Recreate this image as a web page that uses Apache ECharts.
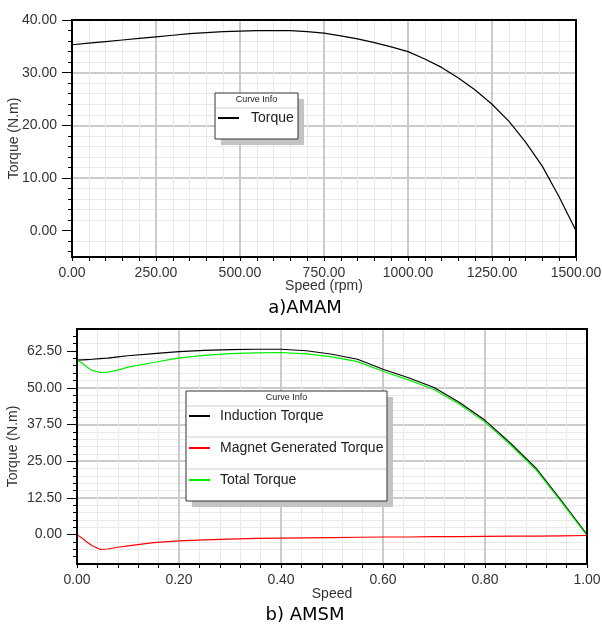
<!DOCTYPE html>
<html>
<head>
<meta charset="utf-8">
<script src="https://cdn.jsdelivr.net/npm/echarts@6/dist/echarts.min.js"></script>
<style>
  html, body { margin: 0; padding: 0; background: #fff; }
  #chart { width: 602px; height: 626px; }
</style>
</head>
<body>
<div id="chart"></div>
<script>
// ---- a) AMAM: torque / speed curve ----
const amamSpeed = [0, 50, 100, 150, 200, 250, 300, 350, 400, 450, 500, 550, 600, 650, 700, 750,
  800, 850, 900, 950, 1000, 1050, 1100, 1150, 1200, 1250, 1300, 1350, 1400, 1450, 1500];
const amamTorque = [35.3, 35.6, 35.9, 36.2, 36.5, 36.8, 37.1, 37.4, 37.6, 37.8, 37.9, 38.0, 38.0, 38.0, 37.8, 37.5,
  37.0, 36.4, 35.7, 34.9, 34.0, 32.6, 31.0, 29.0, 26.7, 24.0, 20.8, 16.8, 12.2, 6.4, 0.0];
const amamYMajor = [0, 10, 20, 30, 40];
const amamYMinor = [-4, -2, 2, 4, 6, 8, 12, 14, 16, 18, 22, 24, 26, 28, 32, 34, 36, 38];

// ---- b) AMSM: per-unit speed curves ----
const amsmSpeed = [0, 0.01, 0.02, 0.03, 0.045, 0.06, 0.08, 0.1, 0.15, 0.2, 0.25, 0.3, 0.35, 0.4, 0.45,
  0.5, 0.55, 0.6, 0.65, 0.7, 0.75, 0.8, 0.85, 0.9, 0.95, 1.0];
const inductionTorque = [59.4, 59.5, 59.6, 59.7, 59.9, 60.1, 60.5, 60.9, 61.6, 62.3, 62.7, 63.0, 63.1, 63.1, 62.6,
  61.4, 59.7, 56.3, 53.4, 50.1, 45.0, 38.9, 31.1, 22.6, 11.5, 0.0];
const magnetTorque = [0.0, -1.2, -2.6, -3.8, -5.0, -4.9, -4.3, -3.8, -2.7, -2.1, -1.8, -1.5, -1.3, -1.2, -1.1,
  -1.0, -0.9, -0.8, -0.8, -0.7, -0.7, -0.6, -0.5, -0.5, -0.4, -0.3];
const totalTorque = [59.4, 58.4, 57.0, 55.9, 55.2, 55.3, 56.0, 57.0, 58.6, 60.2, 61.0, 61.6, 61.9, 62.0, 61.5,
  60.5, 58.9, 55.6, 52.7, 49.4, 44.4, 38.3, 30.6, 22.1, 11.1, -0.3];
const amsmYMajor = [0, 12.5, 25, 37.5, 50, 62.5];
const amsmYMinor = [-7.5, -5, -2.5, 2.5, 5, 7.5, 10, 15, 17.5, 20, 22.5, 27.5, 30, 32.5, 35,
  40, 42.5, 45, 47.5, 52.5, 55, 57.5, 60, 65, 67.5];

const FONT = 'Liberation Sans, Arial, sans-serif';
const LABEL = '#333';
const MAJOR_GRID = '#cbcbcb';
const MINOR_GRID = '#e9e9e9';

const pairs = (xs, ys) => xs.map((x, i) => [x, ys[i]]);

function xAxisFor(gridIndex, min, max, interval, name, nameGap) {
  return {
    type: 'value', gridIndex, min, max, interval,
    name, nameLocation: 'middle', nameGap, nameMoveOverlap: false,
    nameTextStyle: { fontFamily: FONT, fontSize: 14, color: LABEL },
    axisLine: { show: true, onZero: false, lineStyle: { color: '#000', width: 2 } },
    axisTick: { show: true, inside: false, length: 4, lineStyle: { color: '#000' } },
    minorTick: { show: true, splitNumber: 5, length: 4, lineStyle: { color: '#000' } },
    axisLabel: { fontFamily: FONT, fontSize: 14, color: LABEL, margin: 9,
      formatter: v => v.toFixed(2) },
    splitLine: { show: true, showMinLine: false, showMaxLine: false,
      lineStyle: { color: MAJOR_GRID, width: 2 } },
    minorSplitLine: { show: true, lineStyle: { color: MINOR_GRID, width: 1 } },
    z: 1
  };
}

function yAxesFor(gridIndex, min, max, major, minor, name, nameGap) {
  return [
    {
      type: 'value', gridIndex, min, max, position: 'left',
      name, nameLocation: 'middle', nameGap, nameMoveOverlap: false,
      nameTextStyle: { fontFamily: FONT, fontSize: 14, color: LABEL },
      axisLine: { show: true, onZero: false, lineStyle: { color: '#000', width: 2 } },
      axisTick: { show: true, length: 10, customValues: major, lineStyle: { color: '#000' } },
      axisLabel: { fontFamily: FONT, fontSize: 14, color: LABEL, margin: 15,
        customValues: major, formatter: v => v.toFixed(2) },
      splitLine: { show: true, showMinLine: false, showMaxLine: false,
        lineStyle: { color: MAJOR_GRID, width: 2 } },
      z: 1
    },
    {
      type: 'value', gridIndex, min, max, position: 'left',
      axisLine: { show: false, onZero: false },
      axisTick: { show: true, length: 4, customValues: minor, lineStyle: { color: '#000' } },
      axisLabel: { show: false },
      splitLine: { show: true, showMinLine: false, showMaxLine: false,
        lineStyle: { color: MINOR_GRID, width: 1 } },
      z: 0
    }
  ];
}

function lineSeries(name, xIndex, yIndex, data, color) {
  return {
    name, type: 'line', xAxisIndex: xIndex, yAxisIndex: yIndex, data,
    showSymbol: false, symbol: 'none', smooth: false, animation: false,
    lineStyle: { color, width: 1.2 }, itemStyle: { color }, z: 3
  };
}

// "Curve Info" boxes with drop shadow, header and row separators
function infoBox(x, y, w, h, rowLines) {
  const els = [
    { type: 'rect', shape: { x: x + 6, y: y + 6, width: w, height: h }, style: { fill: '#c4c4c4' }, z: 10 },
    { type: 'rect', shape: { x, y, width: w, height: h }, style: { fill: '#fff', stroke: '#333', lineWidth: 1 }, z: 11 },
    { type: 'text', x: x + w / 2, y: y + 7, style: { text: 'Curve Info', font: '9px ' + FONT, fill: '#222', align: 'center', verticalAlign: 'middle' }, z: 12 }
  ];
  rowLines.forEach(ly => els.push({ type: 'line', shape: { x1: x + 1, y1: ly, x2: x + w - 1, y2: ly }, style: { stroke: '#cfcfcf', lineWidth: 1 }, z: 12 }));
  return els;
}

const chart = echarts.init(document.getElementById('chart'), null, { renderer: 'canvas' });
chart.setOption({
  animation: false,
  backgroundColor: '#fff',
  grid: [
    { left: 72, right: 26, top: 20, height: 237, outerBoundsMode: 'none', containLabel: false,
      show: true, borderColor: '#000', borderWidth: 2, backgroundColor: 'transparent', z: 5 },
    { left: 77, right: 15, top: 329, height: 235, outerBoundsMode: 'none', containLabel: false,
      show: true, borderColor: '#000', borderWidth: 2, backgroundColor: 'transparent', z: 5 }
  ],
  xAxis: [
    xAxisFor(0, 0, 1500, 250, 'Speed (rpm)', 22),
    xAxisFor(1, 0, 1, 0.2, 'Speed', 23)
  ],
  yAxis: [
    ...yAxesFor(0, -5, 40, amamYMajor, amamYMinor, 'Torque (N.m)', 51),
    ...yAxesFor(1, -10, 70, amsmYMajor, amsmYMinor, 'Torque (N.m)', 57)
  ],
  legend: [
    {
      data: ['Torque'], orient: 'vertical', left: 218, top: 111, padding: 0,
      icon: 'rect', itemWidth: 21, itemHeight: 2, itemGap: 16,
      textStyle: { fontFamily: FONT, fontSize: 14, color: '#222', padding: [0, 0, 0, 7] },
      selectedMode: false, z: 13
    },
    {
      data: ['Induction Torque', 'Magnet Generated Torque', 'Total Torque'],
      orient: 'vertical', left: 189, top: 408, padding: 0,
      icon: 'rect', itemWidth: 21, itemHeight: 2, itemGap: 16,
      textStyle: { fontFamily: FONT, fontSize: 14, color: '#222', lineHeight: 16, padding: [0, 0, 0, 5] },
      selectedMode: false, z: 13
    }
  ],
  graphic: [
    ...infoBox(215, 93, 83, 46, [108]),
    ...infoBox(186, 391, 201, 110, [406, 437, 469]),
    { type: 'text', x: 305, y: 308, style: { text: 'a)AMAM', font: '18px DejaVu Sans, sans-serif', fill: '#000', align: 'center', verticalAlign: 'middle' }, z: 12 },
    { type: 'text', x: 305, y: 615, style: { text: 'b) AMSM', font: '18px DejaVu Sans, sans-serif', fill: '#000', align: 'center', verticalAlign: 'middle' }, z: 12 }
  ],
  series: [
    lineSeries('Torque', 0, 0, pairs(amamSpeed, amamTorque), '#000'),
    lineSeries('Induction Torque', 1, 2, pairs(amsmSpeed, inductionTorque), '#000'),
    lineSeries('Magnet Generated Torque', 1, 2, pairs(amsmSpeed, magnetTorque), '#ff0000'),
    lineSeries('Total Torque', 1, 2, pairs(amsmSpeed, totalTorque), '#00ee00')
  ]
});
</script>
</body>
</html>
